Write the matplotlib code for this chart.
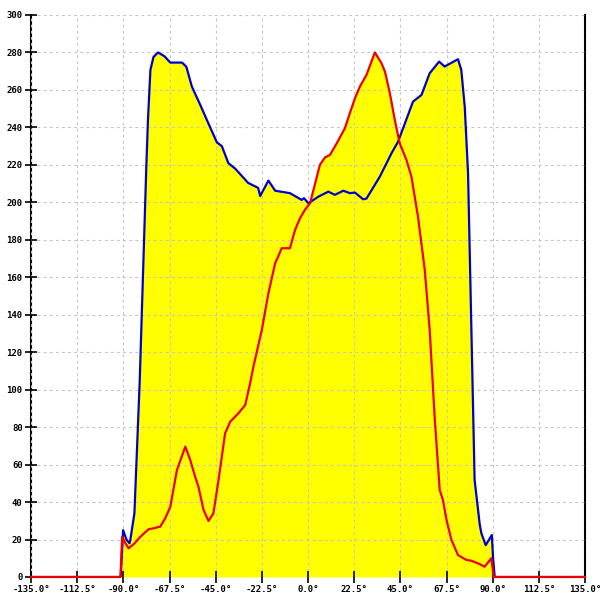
import numpy as np
import matplotlib
matplotlib.use("Agg")
import matplotlib.pyplot as plt

# curva azul (angulo en grados, valor)
ang_azul = [-135.0, -91.3, -90.1, -88.5, -87.0, -86.6, -84.6, -82.0, -78.8, -78.0, -76.8,
            -75.3, -73.1, -70.0, -67.1, -61.4, -59.3, -56.6, -52.5, -49.3, -44.4, -42.0,
            -38.8, -35.5, -29.2, -24.3, -23.3, -19.3, -16.0, -8.8, -3.1, -1.9, 0.2, 5.0,
            9.9, 13.1, 17.2, 20.4, 22.9, 26.9, 28.5, 35.0, 40.7, 43.9, 51.2, 55.3, 59.3,
            63.9, 66.6, 67.1, 73.1, 74.7, 76.4, 77.2, 78.0, 81.2, 83.7, 84.5, 86.6, 89.6,
            90.2, 91.0, 135.0]
val_azul = [0, 0, 25, 20, 18, 19.8, 34, 105, 219, 244, 270.7,
            277.6, 280, 278, 274.6, 274.6, 272.4, 261.8, 252, 244, 232, 230,
            220.9, 218, 210.4, 207.7, 203.4, 211.6, 206.2, 204.9, 201.3, 202.2, 199.5, 203,
            205.7, 204, 206.2, 204.9, 205.2, 201.6, 202, 213.7, 226.2, 232.4, 253.8, 257.3, 268.9,
            275.1, 272.5, 272.8, 276.4, 270.7, 251, 233.3, 215.5, 51.8, 28, 23.3, 17, 22.4,
            10, 0, 0]

# curva roja
ang_rojo = [-135.0, -91.4, -90.6, -89.0, -87.4, -84.5, -81.7, -77.7, -75.2, -72.0, -69.6,
            -67.1, -63.9, -59.8, -57.4, -55.0, -53.4, -50.9, -48.5, -46.1, -43.6, -40.4,
            -37.9, -33.9, -30.6, -28.2, -26.6, -22.5, -19.3, -16.0, -12.8, -8.8, -6.3,
            -3.9, -1.5, 1.0, 5.8, 8.3, 10.7, 14.0, 18.0, 20.4, 22.9, 25.3, 28.5, 32.6,
            35.8, 37.5, 39.9, 42.3, 44.7, 48.0, 50.4, 53.6, 56.9, 59.3, 61.8, 64.2, 65.8,
            67.5, 69.9, 73.1, 77.2, 79.6, 82.8, 86.1, 89.3, 90.6, 135.0]
val_rojo = [0, 0, 21.5, 18, 15.3, 18, 21.5, 25.5, 26, 26.9, 31.3,
            37.5, 57, 69.6, 62.5, 53.5, 48.2, 35.8, 29.9, 34, 51.8, 76.7,
            82.9, 87.4, 91.8, 103.4, 112.3, 131.9, 151.5, 167.5, 175.5, 175.5, 185.3,
            191.5, 196, 199.5, 220, 224, 225.3, 231.5, 239.6, 247.6, 255.6, 261.8, 268, 280,
            274.3, 269.8, 258.2, 244, 231.5, 222.6, 213.7, 192.4, 164, 132, 84, 46.4, 41,
            30.4, 19.8, 11.7, 9.1, 8.7, 7.3, 5.5, 10, 0, 0]

ticks_x = np.arange(-135, 135.1, 22.5)
ticks_y = np.arange(0, 301, 20)

fig = plt.figure(figsize=(6, 6), dpi=100)
ax = fig.add_axes([31/600, 23/600, 554/600, 562/600])

# relleno amarillo bajo el maximo de las dos curvas
xs = np.linspace(-135, 135, 2000)
ya = np.interp(xs, ang_azul, val_azul)
yr = np.interp(xs, ang_rojo, val_rojo)
ax.fill_between(xs, 0, np.maximum(ya, yr), color="#ffff00", lw=0, zorder=1)

ax.plot(ang_azul, val_azul, color="#0000cc", lw=1.6, zorder=3)
ax.plot(ang_rojo, val_rojo, color="#ee0000", lw=1.6, zorder=4, clip_on=False)

ax.set_xlim(-135, 135)
ax.set_ylim(0, 300)
ax.set_xticks(ticks_x)
ax.set_xticklabels([f"{t:.1f}°" for t in ticks_x])
ax.set_yticks(ticks_y)
ax.set_yticklabels([f"{t}" for t in ticks_y])

ax.set_axisbelow(False)
ax.grid(True, color="#c4c4c4", linestyle=(0, (2.5, 3)), lw=0.8, zorder=2)

ax.spines["top"].set_visible(False)
ax.spines["bottom"].set_visible(False)
for s in ("left", "right"):
    ax.spines[s].set_color("black")
    ax.spines[s].set_linewidth(1.5)

ax.tick_params(axis="both", direction="inout", length=8, width=1.2, color="black",
               labelsize=6.5, pad=2)
for lab in ax.get_xticklabels() + ax.get_yticklabels():
    lab.set_family("DejaVu Sans Mono")
    lab.set_fontweight("bold")

fig.savefig("out.png", dpi=100)
